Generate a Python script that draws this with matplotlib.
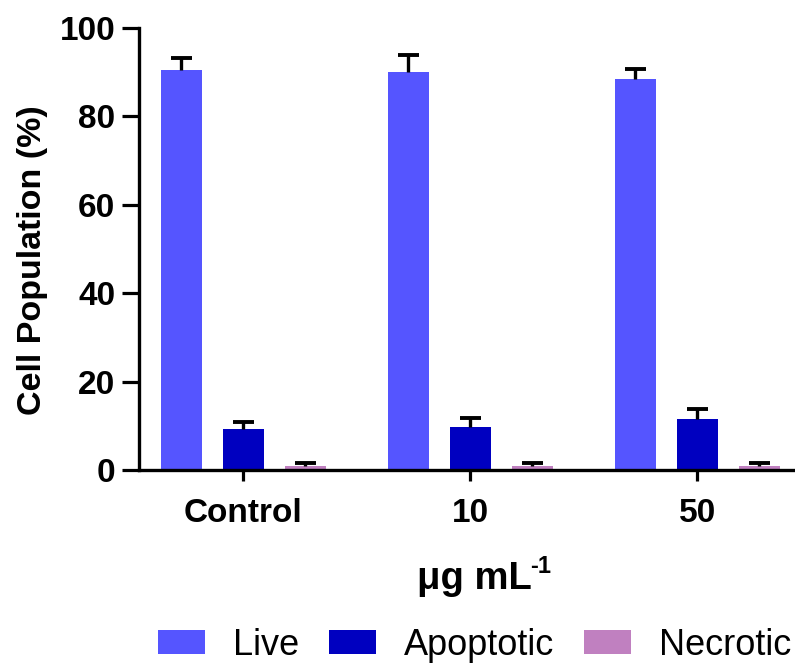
import matplotlib
matplotlib.use("Agg")
import matplotlib.pyplot as plt
import numpy as np

plt.rcParams['font.family'] = ['Liberation Sans', 'DejaVu Sans']

groups = ["Control", "10", "50"]
series = ["Live", "Apoptotic", "Necrotic"]
live = [90.5, 90.1, 88.4]
live_err = [2.7, 3.8, 2.4]
apoptotic = [9.3, 9.7, 11.5]
apoptotic_err = [1.5, 2.0, 2.3]
necrotic = [0.9, 0.9, 0.9]
necrotic_err = [0.6, 0.6, 0.7]
colors = ["#5555FF", "#0000C0", "#C080C0"]

fig = plt.figure(figsize=(7.95, 6.66), dpi=100)
ax = fig.add_axes([139 / 795, 1 - 470 / 666, 656 / 795, 442 / 666])

x = np.arange(len(groups))
width = 0.18
offset = 0.273
cap = 0.092
for i, (vals, errs) in enumerate([(live, live_err), (apoptotic, apoptotic_err), (necrotic, necrotic_err)]):
    xs = x + (i - 1) * offset
    ax.bar(xs, vals, width, color=colors[i], label=series[i], zorder=2)
    tops = np.array(vals) + np.array(errs)
    ax.vlines(xs, vals, tops, color="black", lw=2.4, zorder=3)
    ax.hlines(tops, xs - cap / 2, xs + cap / 2, color="black", lw=2.8, zorder=3)

ax.set_xlim(-0.46, 2.43)
ax.set_ylim(0, 100)
ax.set_yticks([0, 20, 40, 60, 80, 100])
ax.set_xticks(x)
ax.set_xticklabels(groups)
for s in ["top", "right"]:
    ax.spines[s].set_visible(False)
for s in ["left", "bottom"]:
    ax.spines[s].set_linewidth(2.4)
ax.tick_params(axis="y", length=12, width=2.3, pad=5, labelsize=24)
ax.tick_params(axis="x", length=8, width=2.3, pad=12, labelsize=24)
for lbl in ax.get_xticklabels() + ax.get_yticklabels():
    lbl.set_fontweight("bold")

ax.set_ylabel("Cell Population (%)", fontsize=24.5, fontweight="bold")
ax.yaxis.set_label_coords(-0.138, 0.475)

# x label with a small superscript, as in the original
fig.text(417 / 795, 1 - 589 / 666, "μg mL", fontsize=27.5, fontweight="bold", ha="left", va="baseline")
fig.text(530 / 795, 1 - 573 / 666, "-1", fontsize=17, fontweight="bold", ha="left", va="baseline")

fig.legend(loc="center", bbox_to_anchor=(0.597, 0.031), ncol=3, frameon=False,
           prop={"size": 26},
           handlelength=1.3, handleheight=0.67, handletextpad=0.78, columnspacing=0.83,
           borderpad=0, borderaxespad=0)

fig.savefig("out.png", dpi=100)
